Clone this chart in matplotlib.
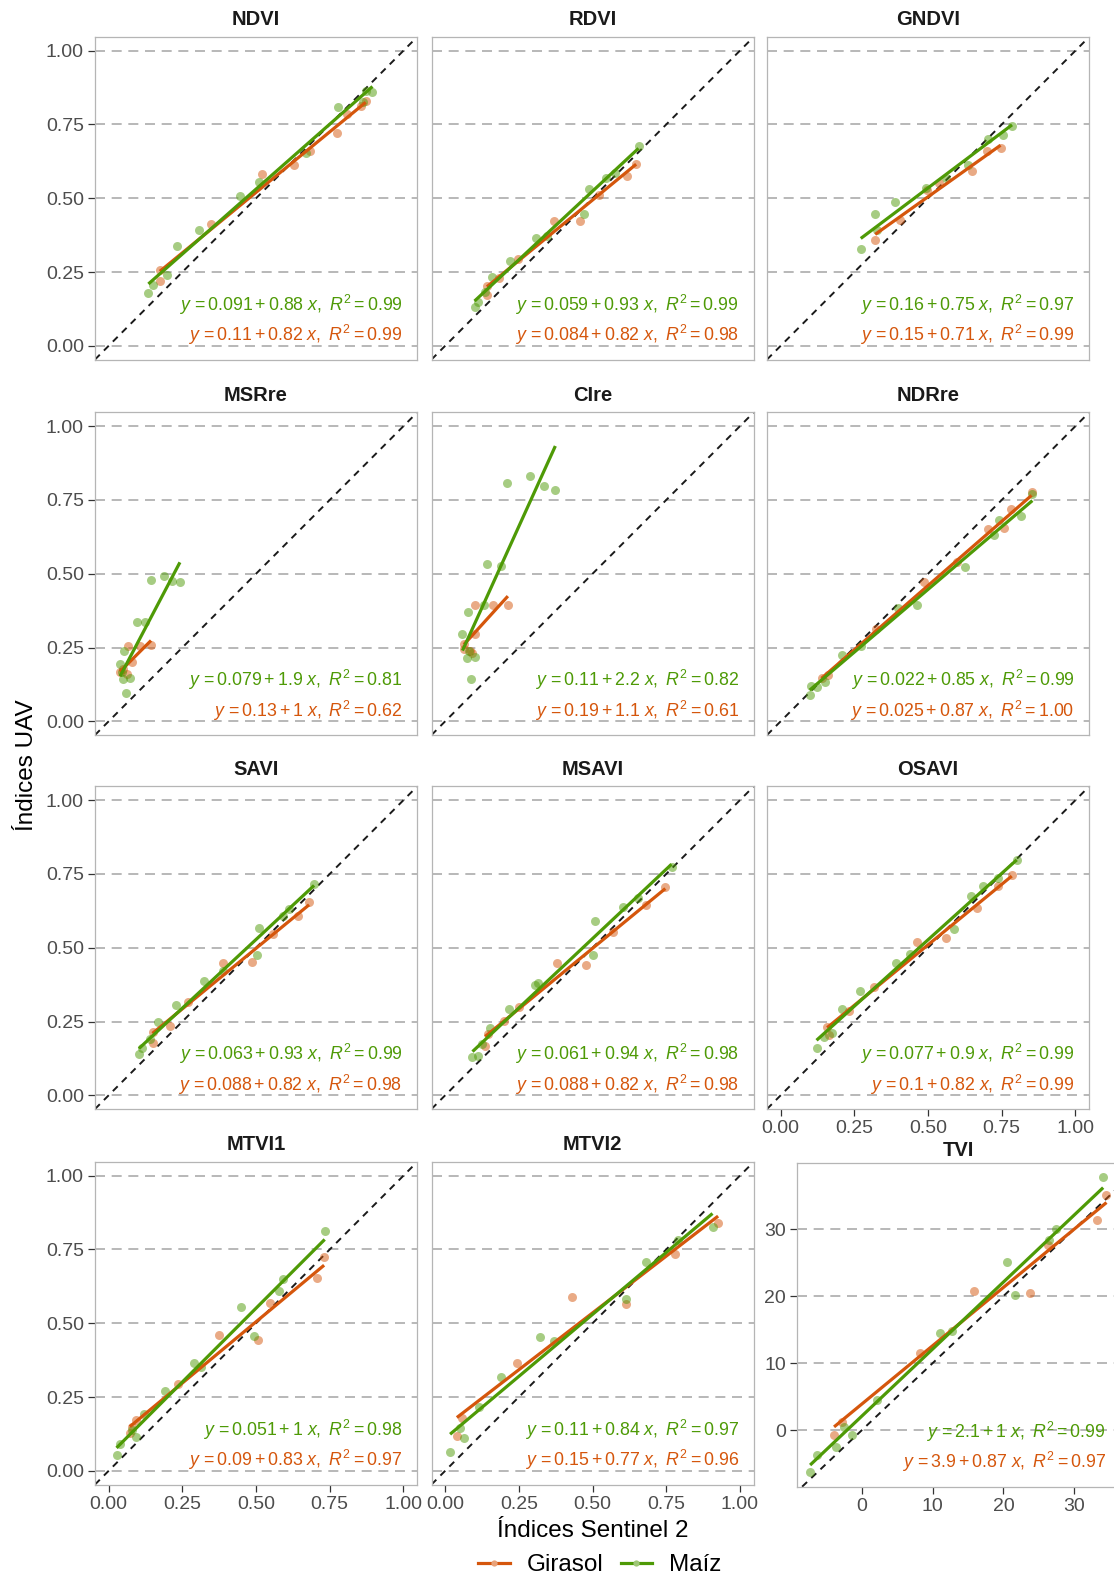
import matplotlib.pyplot as plt
from matplotlib.lines import Line2D
from matplotlib.colors import to_rgb

plt.rcParams["font.family"] = ["Liberation Sans", "DejaVu Sans"]
plt.rcParams["mathtext.fontset"] = "custom"
plt.rcParams["mathtext.rm"] = "Liberation Sans"
plt.rcParams["mathtext.it"] = "Liberation Sans:italic"
plt.rcParams["mathtext.default"] = "regular"

COL_GIR = "#D5560C"
COL_MAIZ = "#4E9A06"

panels = ["NDVI", "RDVI", "GNDVI", "MSRre", "CIre", "NDRre",
          "SAVI", "MSAVI", "OSAVI", "MTVI1", "MTVI2", "TVI"]

# fitted equations (intercept, slope, R2) as printed on the chart
maiz_b0 = ["0.091", "0.059", "0.16", "0.079", "0.11", "0.022", "0.063", "0.061", "0.077", "0.051", "0.11", "2.1"]
maiz_b1 = ["0.88", "0.93", "0.75", "1.9", "2.2", "0.85", "0.93", "0.94", "0.9", "1", "0.84", "1"]
maiz_r2 = ["0.99", "0.99", "0.97", "0.81", "0.82", "0.99", "0.99", "0.98", "0.99", "0.98", "0.97", "0.99"]
gir_b0 = ["0.11", "0.084", "0.15", "0.13", "0.19", "0.025", "0.088", "0.088", "0.1", "0.09", "0.15", "3.9"]
gir_b1 = ["0.82", "0.82", "0.71", "1", "1.1", "0.87", "0.82", "0.82", "0.82", "0.83", "0.77", "0.87"]
gir_r2 = ["0.99", "0.98", "0.99", "0.62", "0.61", "1.00", "0.98", "0.98", "0.99", "0.97", "0.96", "0.97"]

# points: Sentinel 2 (x) vs UAV (y)
ndvi_maiz_x = [0.135, 0.151, 0.199, 0.233, 0.305, 0.447, 0.510, 0.671, 0.779, 0.863, 0.895, 0.874]
ndvi_maiz_y = [0.179, 0.208, 0.239, 0.337, 0.391, 0.509, 0.556, 0.652, 0.808, 0.825, 0.861, 0.864]
ndvi_gir_x = [0.174, 0.174, 0.349, 0.519, 0.629, 0.683, 0.773, 0.807, 0.872, 0.857]
ndvi_gir_y = [0.256, 0.221, 0.414, 0.583, 0.612, 0.661, 0.722, 0.785, 0.828, 0.813]

rdvi_maiz_x = [0.100, 0.113, 0.135, 0.159, 0.219, 0.308, 0.346, 0.487, 0.547, 0.575, 0.656, 0.472]
rdvi_maiz_y = [0.133, 0.150, 0.184, 0.232, 0.288, 0.365, 0.371, 0.532, 0.569, 0.586, 0.677, 0.447]
rdvi_gir_x = [0.142, 0.142, 0.248, 0.369, 0.458, 0.521, 0.617, 0.648, 0.184]
rdvi_gir_y = [0.204, 0.172, 0.295, 0.424, 0.424, 0.512, 0.574, 0.616, 0.229]

gndvi_maiz_x = [0.272, 0.321, 0.387, 0.328, 0.494, 0.560, 0.637, 0.705, 0.756, 0.785]
gndvi_maiz_y = [0.328, 0.448, 0.488, 0.393, 0.534, 0.568, 0.614, 0.702, 0.715, 0.744]
gndvi_gir_x = [0.321, 0.405, 0.538, 0.649, 0.700, 0.746, 0.497]
gndvi_gir_y = [0.359, 0.427, 0.551, 0.591, 0.659, 0.671, 0.529]

msrre_maiz_x = [0.058, 0.049, 0.072, 0.039, 0.053, 0.095, 0.124, 0.144, 0.189, 0.216, 0.242, 0.045]
msrre_maiz_y = [0.095, 0.143, 0.146, 0.194, 0.239, 0.336, 0.336, 0.480, 0.494, 0.477, 0.471, 0.166]
msrre_gir_x = [0.039, 0.049, 0.066, 0.106, 0.144, 0.061, 0.078]
msrre_gir_y = [0.166, 0.177, 0.257, 0.257, 0.259, 0.160, 0.200]

cire_maiz_x = [0.087, 0.076, 0.103, 0.059, 0.078, 0.132, 0.143, 0.188, 0.211, 0.287, 0.335, 0.374, 0.082]
cire_maiz_y = [0.142, 0.216, 0.218, 0.295, 0.369, 0.394, 0.534, 0.527, 0.806, 0.831, 0.798, 0.783, 0.238]
cire_gir_x = [0.064, 0.064, 0.085, 0.103, 0.102, 0.164, 0.213, 0.093]
cire_gir_y = [0.261, 0.244, 0.240, 0.297, 0.396, 0.394, 0.394, 0.233]

ndrre_maiz_x = [0.099, 0.102, 0.149, 0.209, 0.274, 0.398, 0.463, 0.625, 0.724, 0.741, 0.814, 0.854, 0.122]
ndrre_maiz_y = [0.090, 0.120, 0.134, 0.225, 0.254, 0.383, 0.394, 0.522, 0.632, 0.683, 0.697, 0.771, 0.115]
ndrre_gir_x = [0.139, 0.324, 0.488, 0.598, 0.758, 0.783, 0.851, 0.161, 0.702]
ndrre_gir_y = [0.146, 0.314, 0.471, 0.540, 0.655, 0.721, 0.778, 0.156, 0.651]

savi_maiz_x = [0.103, 0.113, 0.141, 0.166, 0.230, 0.325, 0.389, 0.502, 0.510, 0.591, 0.612, 0.697]
savi_maiz_y = [0.141, 0.162, 0.190, 0.250, 0.307, 0.386, 0.422, 0.474, 0.568, 0.607, 0.630, 0.716]
savi_gir_x = [0.149, 0.149, 0.268, 0.389, 0.485, 0.559, 0.644, 0.680, 0.209]
savi_gir_y = [0.178, 0.216, 0.315, 0.448, 0.451, 0.546, 0.607, 0.656, 0.235]

msavi_maiz_x = [0.093, 0.110, 0.125, 0.153, 0.216, 0.305, 0.316, 0.507, 0.501, 0.602, 0.655, 0.768]
msavi_maiz_y = [0.130, 0.133, 0.173, 0.227, 0.292, 0.375, 0.380, 0.591, 0.474, 0.639, 0.670, 0.773]
msavi_gir_x = [0.136, 0.146, 0.252, 0.380, 0.479, 0.571, 0.683, 0.747, 0.199]
msavi_gir_y = [0.167, 0.207, 0.298, 0.448, 0.443, 0.553, 0.644, 0.705, 0.252]

osavi_maiz_x = [0.122, 0.147, 0.173, 0.207, 0.271, 0.392, 0.440, 0.589, 0.646, 0.688, 0.737, 0.801]
osavi_maiz_y = [0.161, 0.198, 0.212, 0.292, 0.353, 0.448, 0.478, 0.564, 0.675, 0.709, 0.738, 0.798]
osavi_gir_x = [0.158, 0.165, 0.317, 0.461, 0.561, 0.667, 0.737, 0.784, 0.232]
osavi_gir_y = [0.232, 0.205, 0.366, 0.519, 0.534, 0.636, 0.709, 0.746, 0.286]

mtvi1_maiz_x = [0.027, 0.039, 0.078, 0.092, 0.121, 0.191, 0.290, 0.314, 0.450, 0.492, 0.579, 0.590, 0.733]
mtvi1_maiz_y = [0.055, 0.091, 0.139, 0.114, 0.192, 0.271, 0.367, 0.353, 0.556, 0.458, 0.609, 0.649, 0.811]
mtvi1_gir_x = [0.072, 0.092, 0.236, 0.376, 0.506, 0.549, 0.706, 0.731, 0.078]
mtvi1_gir_y = [0.128, 0.171, 0.296, 0.461, 0.444, 0.570, 0.655, 0.723, 0.148]

mtvi2_maiz_x = [0.017, 0.064, 0.051, 0.115, 0.188, 0.323, 0.371, 0.614, 0.681, 0.791, 0.907]
mtvi2_maiz_y = [0.065, 0.113, 0.145, 0.215, 0.319, 0.454, 0.441, 0.582, 0.706, 0.782, 0.827]
mtvi2_gir_x = [0.040, 0.056, 0.245, 0.430, 0.614, 0.780, 0.926]
mtvi2_gir_y = [0.119, 0.179, 0.364, 0.588, 0.567, 0.734, 0.841]

tvi_maiz_x = [-7.29, -6.35, -3.62, -2.50, -1.41, 2.20, 11.04, 12.69, 20.54, 21.62, 26.46, 27.40, 34.08]
tvi_maiz_y = [-6.18, -3.69, -2.45, 0.53, -0.73, 4.53, 14.47, 14.87, 25.16, 20.19, 28.40, 29.99, 37.75]
tvi_gir_x = [-3.91, -2.82, 8.22, 15.84, 23.74, 26.32, 33.23, 34.55]
tvi_gir_y = [-0.73, 1.28, 11.58, 20.84, 20.44, 27.65, 31.28, 35.12]

maiz_x = [ndvi_maiz_x, rdvi_maiz_x, gndvi_maiz_x, msrre_maiz_x, cire_maiz_x, ndrre_maiz_x,
          savi_maiz_x, msavi_maiz_x, osavi_maiz_x, mtvi1_maiz_x, mtvi2_maiz_x, tvi_maiz_x]
maiz_y = [ndvi_maiz_y, rdvi_maiz_y, gndvi_maiz_y, msrre_maiz_y, cire_maiz_y, ndrre_maiz_y,
          savi_maiz_y, msavi_maiz_y, osavi_maiz_y, mtvi1_maiz_y, mtvi2_maiz_y, tvi_maiz_y]
gir_x = [ndvi_gir_x, rdvi_gir_x, gndvi_gir_x, msrre_gir_x, cire_gir_x, ndrre_gir_x,
         savi_gir_x, msavi_gir_x, osavi_gir_x, mtvi1_gir_x, mtvi2_gir_x, tvi_gir_x]
gir_y = [ndvi_gir_y, rdvi_gir_y, gndvi_gir_y, msrre_gir_y, cire_gir_y, ndrre_gir_y,
         savi_gir_y, msavi_gir_y, osavi_gir_y, mtvi1_gir_y, mtvi2_gir_y, tvi_gir_y]

unit_ticks = [0.0, 0.25, 0.5, 0.75, 1.0]
tvi_xticks = [0, 10, 20, 30]
tvi_yticks = [0, 10, 20, 30]

W_PX, H_PX = 1114, 1582
fig = plt.figure(figsize=(W_PX / 100, H_PX / 100), dpi=100)


def add_axes_px(left, top, w, h):
    return fig.add_axes([left / W_PX, 1 - (top + h) / H_PX, w / W_PX, h / H_PX])


def eq_label(b0, b1, r2):
    return rf"$\mathit{{y}}\, = {b0} + {b1}\ \mathit{{x}},\ \mathit{{R}}^2 = {r2}$"


def tint(c, f=0.45):
    r, g, b = to_rgb(c)
    return (r + (1 - r) * f, g + (1 - g) * f, b + (1 - b) * f)


col_left = [95, 431.5, 767]
row_top = [36.5, 412, 786, 1161.5]
PW, PH = 322, 323

for i, name in enumerate(panels):
    if name == "TVI":
        ax = add_axes_px(797.3, 1162.7, 323, 324)
        ax.set_xlim(-9.1, 36.5)
        ax.set_ylim(-8.42, 39.9)
        ax.set_xticks(tvi_xticks)
        ax.set_yticks(tvi_yticks)
        show_x, show_y = True, True
        pad = 4.5
    else:
        r, c = divmod(i, 3)
        ax = add_axes_px(col_left[c], row_top[r], PW, PH)
        ax.set_xlim(-0.046, 1.046)
        ax.set_ylim(-0.046, 1.048)
        ax.set_xticks(unit_ticks)
        ax.set_yticks(unit_ticks)
        ax.xaxis.set_major_formatter(lambda v, p: f"{v:.2f}")
        ax.yaxis.set_major_formatter(lambda v, p: f"{v:.2f}")
        show_x = r == 3 or name == "OSAVI"
        show_y = c == 0
        pad = 8

    ax.grid(axis="y", linestyle=(0, (6, 4)), color="#ababab", linewidth=1.2, zorder=0)
    ax.grid(axis="x", visible=False)
    for s in ax.spines.values():
        s.set_color("#b5b5b5")
        s.set_linewidth(0.9)
    ax.tick_params(axis="x", length=5 if show_x else 0, width=0.9, color="#333333",
                   labelbottom=show_x, labelsize=14, labelcolor="#4d4d4d", pad=3)
    ax.tick_params(axis="y", length=5 if show_y else 0, width=0.9, color="#333333",
                   labelleft=show_y, labelsize=14, labelcolor="#4d4d4d", pad=3)

    ax.axline((0, 0), slope=1, color="#1a1a1a", linestyle=(0, (3.5, 3)), linewidth=1.4, zorder=2)

    ax.scatter(gir_x[i], gir_y[i], s=42, color=COL_GIR, alpha=0.5, linewidths=0, zorder=3)
    ax.scatter(maiz_x[i], maiz_y[i], s=42, color=COL_MAIZ, alpha=0.5, linewidths=0, zorder=3)

    for xs, b0, b1, col in [(gir_x[i], gir_b0[i], gir_b1[i], COL_GIR),
                            (maiz_x[i], maiz_b0[i], maiz_b1[i], COL_MAIZ)]:
        x0, x1 = min(xs), max(xs)
        ax.plot([x0, x1], [float(b0) + float(b1) * x0, float(b0) + float(b1) * x1],
                color=col, linewidth=2.3, solid_capstyle="butt", zorder=4)

    ax.text(0.955, 0.17, eq_label(maiz_b0[i], maiz_b1[i], maiz_r2[i]), transform=ax.transAxes,
            ha="right", va="center", color=COL_MAIZ, fontsize=12.8, zorder=5)
    ax.text(0.955, 0.075, eq_label(gir_b0[i], gir_b1[i], gir_r2[i]), transform=ax.transAxes,
            ha="right", va="center", color=COL_GIR, fontsize=12.8, zorder=5)

    ax.set_title(name, fontsize=14.5, fontweight="bold", color="#1a1a1a", pad=pad)

fig.text(27 / W_PX, 1 - 765 / H_PX, "Índices UAV", rotation=90, ha="center", va="center",
         fontsize=17.5, color="black")
fig.text(593 / W_PX, 1 - 1531 / H_PX, "Índices Sentinel 2", ha="center", va="center",
         fontsize=17.5, color="black")

handles = [Line2D([], [], color=COL_GIR, linewidth=2.3, marker="o", markersize=4.5,
                  markerfacecolor=tint(COL_GIR), markeredgewidth=0),
           Line2D([], [], color=COL_MAIZ, linewidth=2.3, marker="o", markersize=4.5,
                  markerfacecolor=tint(COL_MAIZ), markeredgewidth=0)]
fig.legend(handles, ["Girasol", "Maíz"], loc="center", bbox_to_anchor=(600 / W_PX, 1 - 1565 / H_PX),
           ncol=2, frameon=False, fontsize=17.5, handlelength=1.3, handletextpad=0.7,
           columnspacing=0.7, borderpad=0, borderaxespad=0)

fig.savefig("out.png", dpi=100)
